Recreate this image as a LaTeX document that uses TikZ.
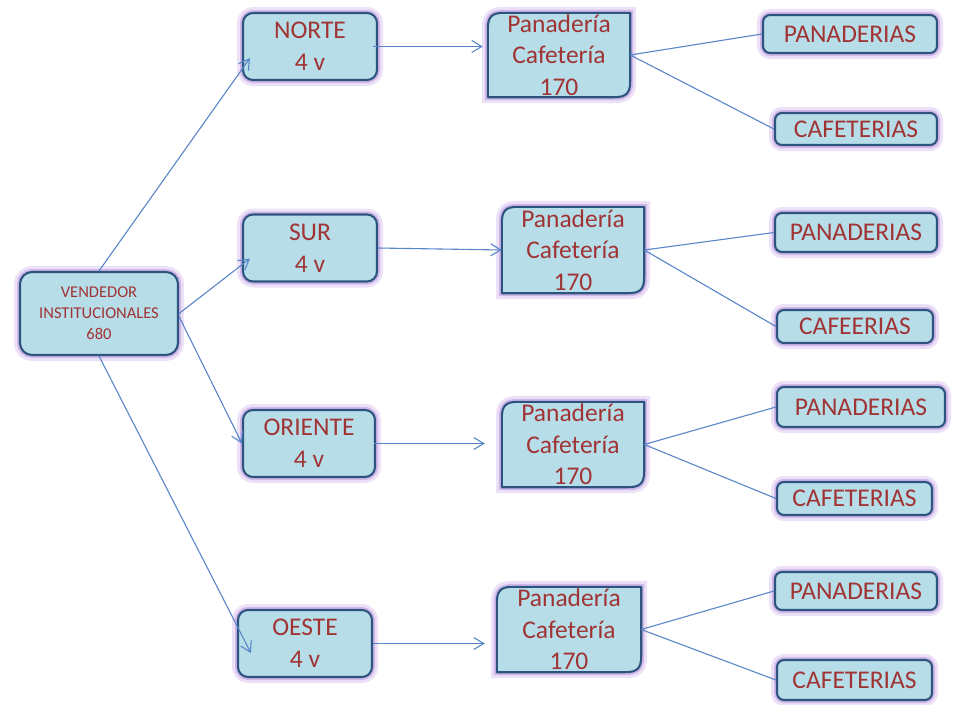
\documentclass[tikz,border=0pt]{standalone}
\usepackage{fontspec}
\setmainfont{Carlito}
\usepackage{tikz}
\usetikzlibrary{arrows.meta,positioning,backgrounds}

\definecolor{boxfill}{RGB}{183,221,232}
\definecolor{boxline}{RGB}{45,84,126}
\definecolor{txtred}{RGB}{160,52,52}
\definecolor{linkblue}{RGB}{88,134,200}
\definecolor{glowc}{RGB}{200,170,230}

\begin{document}
\begin{tikzpicture}[
            x=1pt,y=-1pt,
            glow/.style={preaction={draw=glowc!35,line width=12pt},preaction={draw=glowc!85,line width=6pt}},
            base/.style={fill=boxfill,draw=boxline,line width=2.1pt,glow,text=txtred,align=center,inner sep=0pt},
            vend/.style={base,rounded corners=12pt,minimum width=158pt,minimum height=83pt,font=\fontsize{16.5}{21}\selectfont},
            zona/.style={base,rounded corners=10pt,minimum width=134pt,minimum height=67pt,font=\fontsize{25.5}{32}\selectfont},
            pan/.style={inner sep=0pt,text=txtred,align=center,minimum width=142pt,minimum height=85pt,font=\fontsize{25.5}{31.5}\selectfont},
            panline/.style={fill=boxfill,draw=boxline,line width=2.1pt,line join=round,glow},
            tipo/.style={base,rounded corners=7pt,font=\fontsize{25.5}{30}\selectfont},
            flecha/.style={draw=linkblue,line width=1.1pt,-{Straight Barb[length=10pt,width=12pt]}},
            rama/.style={draw=linkblue,line width=1.1pt}
          ]
          \useasboundingbox (0,0) rectangle (955,704);

          \node[vend] (vend) at (99,313.5) {VENDEDOR\\INSTITUCIONALES\\680};

          %zonas
          \node[zona] (norte) at (310,46.5) {NORTE\\4 v};
          \node[zona] (sur) at (310,248) {SUR\\4 v};
          \node[zona,minimum width=132pt] (oriente) at (309,443.5) {ORIENTE\\4 v};
          \node[zona] (oeste) at (305,643.5) {OESTE\\4 v};

          %panaderia cafeteria
          \node[pan,minimum height=84pt] (p1) at (559,55) {Panadería\\Cafetería\\170};
          \node[pan,minimum height=86pt] (p2) at (573,250) {Panadería\\Cafetería\\170};
          \node[pan] (p3) at (573,444.5) {Panadería\\Cafetería\\170};
          \node[pan,minimum width=144pt] (p4) at (569,629.5) {Panadería\\Cafetería\\170};
          \begin{scope}[on background layer]
            \foreach \p in {p1,p2,p3,p4}
              \draw[panline] (\p.north east) -- ([yshift=16pt]\p.south east)
                .. controls ([yshift=4pt]\p.south east) and ([xshift=-4pt]\p.south east) .. ([xshift=-16pt]\p.south east)
                -- (\p.south west) -- ([yshift=-16pt]\p.north west)
                .. controls ([yshift=-4pt]\p.north west) and ([xshift=4pt]\p.north west) .. ([xshift=16pt]\p.north west) -- cycle;
          \end{scope}

          %tipos
          \node[tipo,minimum width=174pt,minimum height=38pt] (pa1) at (850,34) {PANADERIAS};
          \node[tipo,minimum width=162pt,minimum height=32pt] (ca1) at (856,129) {CAFETERIAS};
          \node[tipo,minimum width=162pt,minimum height=39pt] (pa2) at (856,232.5) {PANADERIAS};
          \node[tipo,minimum width=156pt,minimum height=33pt] (ca2) at (855,326.5) {CAFEERIAS};
          \node[tipo,minimum width=168pt,minimum height=40pt] (pa3) at (861,407) {PANADERIAS};
          \node[tipo,minimum width=155pt,minimum height=33pt] (ca3) at (854.5,498.5) {CAFETERIAS};
          \node[tipo,minimum width=162pt,minimum height=38pt] (pa4) at (856,591) {PANADERIAS};
          \node[tipo,minimum width=155pt,minimum height=40pt] (ca4) at (854.5,680) {CAFETERIAS};

          %puntas dentro de las zonas
          \coordinate (tn) at ([shift={(8pt,23pt)}]norte.south west);
          \coordinate (ts) at ([shift={(8pt,24pt)}]sur.south west);
          \coordinate (to) at ([shift={(14pt,25pt)}]oeste.south west);

          %vendedor a zonas
          \path[flecha] (vend.north) -- (tn);
          \path[flecha] (vend.east) -- (ts);
          \path[flecha] ([yshift=-3pt]vend.east) -- (oriente.west);
          \path[flecha] (vend.south) -- (to);

          %zonas a panaderia
          \path[flecha,shorten <=-5pt,shorten >=5pt] (norte.east) -- (norte.east -| p1.west);
          \path[flecha] (sur.east) -- (p2.west);
          \path[flecha,shorten <=-2pt,shorten >=17pt] (oriente.east) -- (oriente.east -| p3.west);
          \path[flecha,shorten >=12pt] (oeste.east) -- (oeste.east -| p4.west);

          %panaderia a tipos
          \path[rama]
          (p1.east) -- (pa1.west) (p1.east) -- (ca1.west)
          (p2.east) -- (pa2.west) (p2.east) -- (ca2.west)
          (p3.east) -- (pa3.west) (p3.east) -- (ca3.west)
          (p4.east) -- (pa4.west) (p4.east) -- (ca4.west)
          ;

      \end{tikzpicture}
\end{document}
